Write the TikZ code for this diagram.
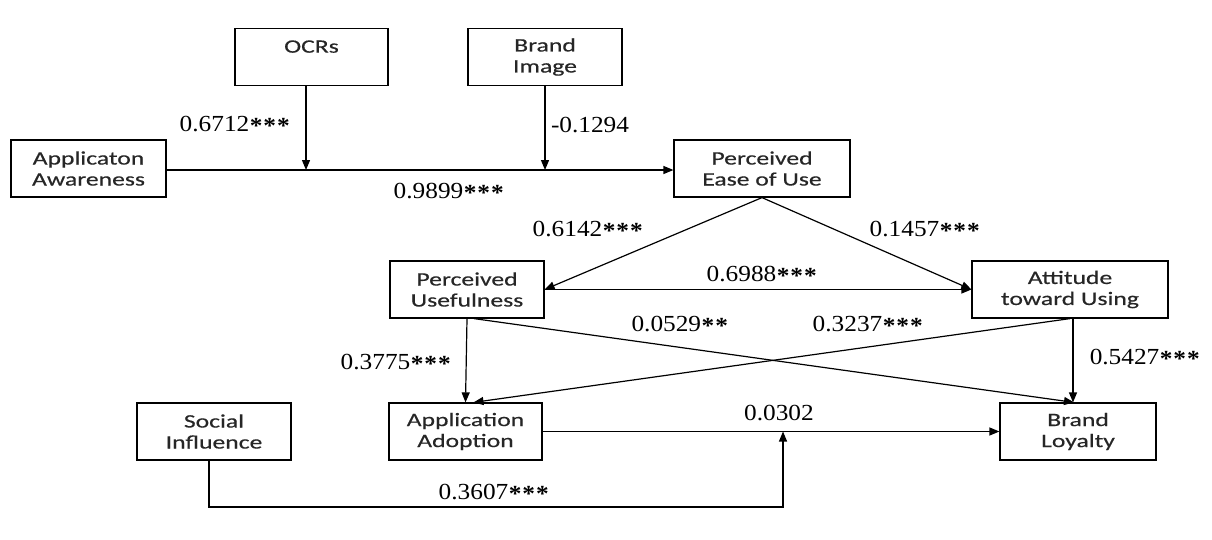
\documentclass[tikz,border=0pt]{standalone}
\usepackage{fontspec}
\usetikzlibrary{arrows.meta}
\newfontfamily\boxfont[FakeStretch=1.35,FakeBold=0.4]{Carlito}
\newfontfamily\labfont[FakeStretch=1.1]{Liberation Serif}
\definecolor{boxtext}{HTML}{262626}
\newcommand{\st}{\kern0.5pt\raisebox{-2pt}{\bfseries *}\kern0.5pt}
\begin{document}
\begin{tikzpicture}[x=1pt,y=-1pt,
  box/.style={draw, line width=1.2pt, rectangle, inner sep=0pt, align=center,
    font={\boxfont\fontsize{19}{21}\selectfont}, text=boxtext, minimum height=57pt},
  lab/.style={font={\labfont\fontsize{23}{26}\selectfont}, inner sep=0pt},
  conn/.style={line width=1.2pt},
  arr/.style={conn, -{Triangle[length=10pt,width=8pt]}}]
\useasboundingbox (0,0) rectangle (1212,539);

% boxes
\node[box, minimum width=153pt] (ocr) at (311.5,57) {OCRs\\\mbox{}};
\node[box, minimum width=154pt] (bi) at (545,57) {Brand\\Image};
\node[box, minimum width=155pt] (aw) at (88.5,168.5) {Applicaton\\Awareness};
\node[box, minimum width=176pt] (peou) at (762,168.5) {Perceived\\Ease of Use};
\node[box, minimum width=154pt] (pu) at (467,289.5) {Perceived\\Usefulness};
\node[box, minimum width=196pt] (atu) at (1070,289.5) {Attitude\\toward Using};
\node[box, minimum width=154pt] (si) at (214,431.5) {Social\\Influence};
\node[box, minimum width=153pt] (aa) at (465.5,431.5) {Application\\Adoption};
\node[box, minimum width=156pt] (bl) at (1078,431.5) {Brand\\Loyalty};

% helper coordinates
\coordinate (m1) at (306,170);
\coordinate (m2) at (545,170);
\coordinate (m3) at (783,431.5);
\coordinate (c1) at (209,507);
\coordinate (c2) at (783,507);

% connectors
\draw[arr] (aw.east |- m1) -- (peou.west |- m1);
\draw[arr] (ocr.south -| m1) -- (m1);
\draw[arr] (bi.south -| m2) -- (m2);
\draw[arr] (peou.south) -- (pu.east);
\draw[arr] (peou.south) -- (atu.west);
\draw[arr] (pu.east) -- (atu.west);
\draw[arr] (pu.south) -- (aa.north);
\draw[arr] ([xshift=7pt]pu.south) -- ([xshift=-4pt]bl.north);
\draw[arr] (atu.south) -- ([xshift=8pt]aa.north);
\draw[arr] ([xshift=3pt]atu.south) -- ([xshift=3pt]atu.south |- bl.north);
\draw[arr] (aa.east) -- (bl.west);
\draw[arr] (si.south -| c1) -- (c1) -- (c2) -- (m3);

% labels
\node[lab] (l1) at (235,125) {0.6712\st\st\st};
\node[lab] (l2) at (590,125) {-0.1294};
\node[lab] (l3) at (449,192) {0.9899\st\st\st};
\node[lab] (l4) at (588,230) {0.6142\st\st\st};
\node[lab] (l5) at (925,230) {0.1457\st\st\st};
\node[lab] (l6) at (762,275) {0.6988\st\st\st};
\node[lab] (l7) at (680,325) {0.0529\st\st};
\node[lab] (l8) at (868,325) {0.3237\st\st\st};
\node[lab] (l9) at (396,363) {0.3775\st\st\st};
\node[lab] (l10) at (1145,358) {0.5427\st\st\st};
\node[lab] (l11) at (779,413) {0.0302};
\node[lab] (l12) at (494,493) {0.3607\st\st\st};
\end{tikzpicture}
\end{document}
